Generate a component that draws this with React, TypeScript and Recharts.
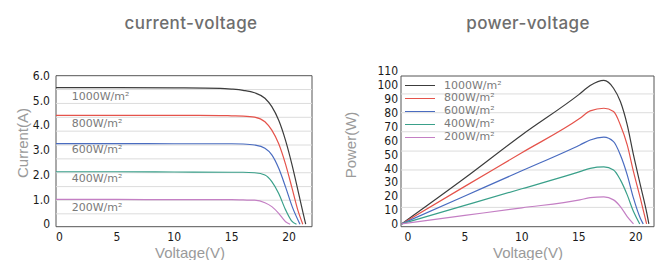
import React from "react";
import {
  LineChart,
  Line,
  XAxis,
  YAxis,
  ReferenceLine,
  ReferenceArea,
  ReferenceDot,
} from "recharts";

// irradiance levels, shared by both charts
const levels = ["1000W/m²", "800W/m²", "600W/m²", "400W/m²", "200W/m²"];
const colors = ["#3c3c3c", "#e5534b", "#4a6cc0", "#3aa08a", "#c47fc4"];

const voltageTicks = [0, 5, 10, 15, 20];
const currentTicks = [0, 1, 2, 3, 4, 5, 6];
const powerTicks = [0, 10, 20, 30, 40, 50, 60, 70, 80, 90, 100, 110];

// light grid rows as drawn in the picture
const currentGrid = [0.42, 0.97, 1.52, 2.08, 2.64, 3.2, 3.76, 4.32, 4.88, 5.44];
const powerGrid = [11.9, 25.6, 38.8, 52.4, 66.3, 80, 93.5];

// where the curve names sit (left chart)
const labelVoltage = 1.07;
const labelCurrent = [5.18, 4.08, 3.03, 1.85, 0.67];

// current-voltage curves
const iv1000 = [
  { v: -0.3, i: 5.52 }, { v: 5, i: 5.52 }, { v: 10, i: 5.51 }, { v: 14, i: 5.49 },
  { v: 15, i: 5.46 }, { v: 16, i: 5.41 }, { v: 17, i: 5.31 }, { v: 17.9, i: 5.09 },
  { v: 18.5, i: 4.75 }, { v: 19.1, i: 4.2 }, { v: 19.7, i: 3.38 }, { v: 20.25, i: 2.42 },
  { v: 20.8, i: 1.32 }, { v: 21.2, i: 0.5 }, { v: 21.45, i: 0 },
];
const iv800 = [
  { v: -0.3, i: 4.4 }, { v: 5, i: 4.4 }, { v: 10, i: 4.4 }, { v: 14, i: 4.39 },
  { v: 15, i: 4.38 }, { v: 16, i: 4.37 }, { v: 17, i: 4.33 }, { v: 17.9, i: 4.14 },
  { v: 18.5, i: 3.8 }, { v: 19.1, i: 3.25 }, { v: 19.7, i: 2.42 }, { v: 20.25, i: 1.48 },
  { v: 20.8, i: 0.52 }, { v: 21.2, i: 0 },
];
const iv600 = [
  { v: -0.3, i: 3.26 }, { v: 5, i: 3.26 }, { v: 10, i: 3.25 }, { v: 15, i: 3.25 },
  { v: 16, i: 3.24 }, { v: 17, i: 3.2 }, { v: 17.9, i: 3.07 }, { v: 18.5, i: 2.8 },
  { v: 19.1, i: 2.26 }, { v: 19.7, i: 1.5 }, { v: 20.3, i: 0.68 }, { v: 20.95, i: 0 },
];
const iv400 = [
  { v: -0.3, i: 2.12 }, { v: 5, i: 2.12 }, { v: 10, i: 2.11 }, { v: 15, i: 2.1 },
  { v: 16, i: 2.1 }, { v: 17, i: 2.08 }, { v: 17.9, i: 1.99 }, { v: 18.5, i: 1.72 },
  { v: 19.1, i: 1.24 }, { v: 19.7, i: 0.58 }, { v: 20.2, i: 0.15 }, { v: 20.65, i: 0 },
];
const iv200 = [
  { v: -0.3, i: 1.0 }, { v: 5, i: 1.0 }, { v: 10, i: 0.99 }, { v: 15, i: 0.99 },
  { v: 16, i: 0.98 }, { v: 17, i: 0.97 }, { v: 17.9, i: 0.87 }, { v: 18.5, i: 0.71 },
  { v: 19.1, i: 0.44 }, { v: 19.7, i: 0.1 }, { v: 20.1, i: 0 },
];

// power-voltage curves
const pv1000 = [
  { v: -0.55, p: 0 }, { v: 5, p: 33 }, { v: 10, p: 64 }, { v: 15, p: 93 },
  { v: 16, p: 99.5 }, { v: 17.2, p: 103.2 }, { v: 18.05, p: 97.6 }, { v: 18.65, p: 88 },
  { v: 19.25, p: 71.2 }, { v: 19.8, p: 49.6 }, { v: 20.4, p: 28.1 }, { v: 21.0, p: 6.5 },
  { v: 21.15, p: 0 },
];
const pv800 = [
  { v: -0.55, p: 0 }, { v: 5, p: 27 }, { v: 10, p: 51.2 }, { v: 15.1, p: 76 },
  { v: 16, p: 81.3 }, { v: 17.2, p: 83.2 }, { v: 18.05, p: 80.8 }, { v: 18.65, p: 71.2 },
  { v: 19.25, p: 56.8 }, { v: 19.8, p: 37.6 }, { v: 20.4, p: 18.5 }, { v: 20.95, p: 0 },
];
const pv600 = [
  { v: -0.55, p: 0 }, { v: 5, p: 20.1 }, { v: 10, p: 38.2 }, { v: 15.1, p: 56.8 },
  { v: 16, p: 60.4 }, { v: 17.2, p: 62.4 }, { v: 18.05, p: 59.2 }, { v: 18.65, p: 49.6 },
  { v: 19.25, p: 35.3 }, { v: 19.8, p: 18.5 }, { v: 20.4, p: 4.1 }, { v: 20.65, p: 0 },
];
const pv400 = [
  { v: -0.55, p: 0 }, { v: 5, p: 13.3 }, { v: 10, p: 25.3 }, { v: 15.1, p: 37.6 },
  { v: 16, p: 40 }, { v: 17.2, p: 41 }, { v: 18.05, p: 38.8 }, { v: 18.65, p: 31.7 },
  { v: 19.25, p: 20.9 }, { v: 19.8, p: 8.9 }, { v: 20.35, p: 0 },
];
const pv200 = [
  { v: -0.55, p: 0 }, { v: 5, p: 6.1 }, { v: 10, p: 11.6 }, { v: 15.1, p: 17.3 },
  { v: 16, p: 18.9 }, { v: 17.2, p: 19.4 }, { v: 18.05, p: 17.3 }, { v: 18.65, p: 12.5 },
  { v: 19.25, p: 5.3 }, { v: 19.8, p: 0 },
];

const ivSeries = [iv1000, iv800, iv600, iv400, iv200];
const pvSeries = [pv1000, pv800, pv600, pv400, pv200];

const tickFont = {
  fontFamily: "'DejaVu Sans Condensed', 'DejaVu Sans', sans-serif",
  fontSize: 12,
  fill: "#1a1a1a",
};
const nameFont = "'DejaVu Sans', sans-serif";
const titleStyle: React.CSSProperties = {
  position: "absolute",
  top: 23,
  transform: "translate(-50%, -50%)",
  fontFamily: "Inter, 'Noto Sans', sans-serif",
  fontWeight: 500,
  fontSize: 17,
  letterSpacing: 0.4,
  lineHeight: 1,
  color: "#6e6e6e",
  whiteSpace: "nowrap",
};
const axisTitle: React.CSSProperties = {
  position: "absolute",
  fontFamily: "'Liberation Sans', Arial, sans-serif",
  fontSize: 15,
  lineHeight: 1,
  color: "#9a9a9a",
  whiteSpace: "nowrap",
};

export default function App() {
  return (
    <div style={{ position: "absolute", left: 0, top: 0, width: 662, height: 260, background: "#fff", overflow: "hidden" }}>
      <div style={{ ...titleStyle, left: 191 }}>current-voltage</div>
      <div style={{ ...titleStyle, left: 528 }}>power-voltage</div>

      <div style={{ position: "absolute", left: 0, top: 0 }}>
        <LineChart width={331} height={260} margin={{ top: 75.7, right: 19, bottom: 3.3, left: 0 }}>
          <XAxis
            type="number"
            dataKey="v"
            domain={[-0.3, 22]}
            ticks={voltageTicks}
            interval={0}
            axisLine={false}
            tickLine={false}
            tickSize={0}
            tickMargin={6}
            height={30}
            tick={tickFont}
            allowDataOverflow
          />
          <YAxis
            type="number"
            domain={[-0.1, 6]}
            ticks={currentTicks}
            interval={0}
            tickFormatter={(v: number) => (v === 0 ? "0" : v.toFixed(1))}
            axisLine={false}
            tickLine={false}
            tickSize={0}
            tickMargin={6}
            width={56}
            tick={tickFont}
            allowDataOverflow
          />
          {currentGrid.map((g) => (
            <ReferenceLine key={g} y={g} stroke="#dcdcdc" strokeWidth={1} />
          ))}
          <ReferenceArea x1={-0.3} x2={22} y1={-0.1} y2={6} fill="none" fillOpacity={0} stroke="#555" strokeWidth={1} />
          {ivSeries.map((d, k) => (
            <Line
              key={levels[k]}
              data={d}
              dataKey="i"
              type="monotone"
              stroke={colors[k]}
              strokeWidth={1.2}
              dot={false}
              isAnimationActive={false}
            />
          ))}
          {labelCurrent.map((y, k) => (
            <ReferenceDot
              key={levels[k]}
              x={labelVoltage}
              y={y}
              r={0}
              fill="none"
              stroke="none"
              label={{
                content: (p: any) => (
                  <text
                    x={p.viewBox?.x ?? 0}
                    y={p.viewBox?.y ?? 0}
                    dy="0.35em"
                    fill="#7a7a7a"
                    fontSize={11}
                    fontFamily={nameFont}
                  >
                    {levels[k]}
                  </text>
                ),
              }}
            />
          ))}
        </LineChart>
      </div>

      <div style={{ position: "absolute", left: 331, top: 0 }}>
        <LineChart width={331} height={260} margin={{ top: 71, right: 8, bottom: 3.3, left: 0 }}>
          <XAxis
            type="number"
            dataKey="v"
            domain={[-0.6, 21.6]}
            ticks={voltageTicks}
            interval={0}
            axisLine={false}
            tickLine={false}
            tickSize={0}
            tickMargin={6}
            height={30}
            tick={tickFont}
            allowDataOverflow
          />
          <YAxis
            type="number"
            domain={[-2, 110]}
            ticks={powerTicks}
            interval={0}
            axisLine={false}
            tickLine={false}
            tickSize={0}
            tickMargin={3}
            width={70}
            tick={tickFont}
            allowDataOverflow
          />
          {powerGrid.map((g) => (
            <ReferenceLine key={g} y={g} stroke="#dcdcdc" strokeWidth={1} />
          ))}
          <ReferenceArea x1={-0.6} x2={21.6} y1={-2} y2={106.4} fill="none" fillOpacity={0} stroke="#555" strokeWidth={1} />
          {pvSeries.map((d, k) => (
            <Line
              key={levels[k]}
              data={d}
              dataKey="p"
              type="monotone"
              stroke={colors[k]}
              strokeWidth={1.2}
              dot={false}
              isAnimationActive={false}
            />
          ))}
        </LineChart>
      </div>

      {/* legend of the power chart */}
      <div style={{ position: "absolute", left: 405, top: 79.5 }}>
        {levels.map((name, k) => (
          <div key={name} style={{ display: "flex", alignItems: "center", height: 12.8 }}>
            <div style={{ width: 30, height: 0, borderTop: `1.2px solid ${colors[k]}`, marginRight: 9 }} />
            <span style={{ fontFamily: nameFont, fontSize: 11, color: "#7a7a7a", lineHeight: "12.8px" }}>{name}</span>
          </div>
        ))}
      </div>

      <div style={{ ...axisTitle, left: 22, top: 143, transform: "translate(-50%, -50%) rotate(-90deg)" }}>Current(A)</div>
      <div style={{ ...axisTitle, left: 190, top: 252, transform: "translate(-50%, -50%)" }}>Voltage(V)</div>
      <div style={{ ...axisTitle, left: 350, top: 145, transform: "translate(-50%, -50%) rotate(-90deg)" }}>Power(W)</div>
      <div style={{ ...axisTitle, left: 528, top: 252, transform: "translate(-50%, -50%)" }}>Voltage(V)</div>
    </div>
  );
}
